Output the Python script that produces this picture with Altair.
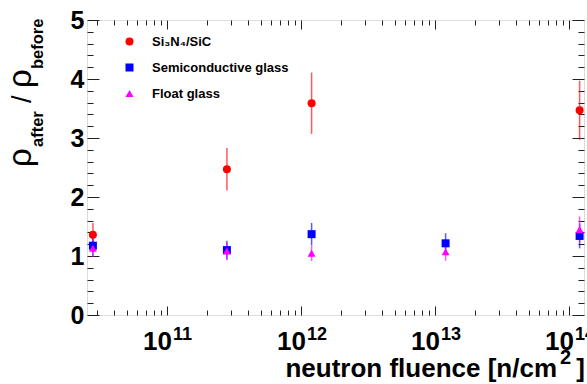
import altair as alt
import pandas as pd

# Neutron fluence of each irradiation step [n/cm^2]
fluence = [2.8e10, 2.8e11, 1.2e12, 1.2e13, 1.2e14]

# Resistivity ratio rho_after / rho_before and its uncertainty per material
sic_ratio = [1.36, 2.47, 3.59, None, 3.47]
sic_err = [0.20, 0.36, 0.52, None, 0.50]
semi_ratio = [1.175, 1.10, 1.37, 1.215, 1.34]
semi_err = [0.17, 0.16, 0.19, 0.17, 0.21]
float_ratio = [1.13, 1.085, 1.046, 1.07, 1.45]
float_err = [0.15, 0.15, 0.13, 0.15, 0.22]

materials = ["Si\u2083N\u2084/SiC", "Semiconductive glass", "Float glass"]
colors = ["#ff0000", "#0000ff", "#ff00ff"]
shapes = ["circle", "square", "triangle-up"]

decades = [11, 12, 13, 14]
y_labels = [0, 1, 2, 3, 4, 5]

rows = []
for name, vals, errs in zip(materials,
                            [sic_ratio, semi_ratio, float_ratio],
                            [sic_err, semi_err, float_err]):
    for f, v, e in zip(fluence, vals, errs):
        if v is None:
            continue
        rows.append({"fluence": f, "ratio": v, "lo": v - e, "hi": v + e,
                     "material": name})
df = pd.DataFrame(rows)

W, H = 497, 295
FONT = "Liberation Sans"
X_DOMAIN = [2.53e10, 1.294e14]

x_scale = alt.Scale(type="log", domain=X_DOMAIN, nice=False)
y_scale = alt.Scale(domain=[0, 5], nice=False, zero=False)

major_x = [10.0 ** d for d in decades]
minor_x = [k * 10.0 ** d for d in range(10, 15) for k in range(2, 10)
           if X_DOMAIN[0] <= k * 10.0 ** d <= X_DOMAIN[1]]
minor_y = [round(i * 0.2, 1) for i in range(1, 25) if i % 5 != 0]


def tick_axis(orient, values, size, labels=False, **kw):
    """Axis drawn with its ticks pointing into the frame (ROOT style)."""
    return alt.Axis(orient=orient, values=values, tickSize=size, offset=-size,
                    domain=False, grid=False, labels=labels, title=None,
                    tickColor="#222", tickWidth=1, **kw)


left_major = tick_axis("left", y_labels, 12, labels=True, labelFont=FONT,
                       labelFontSize=25, labelFontWeight="bold",
                       labelColor="black", labelPadding=3)
left_minor = tick_axis("left", minor_y, 6)
right_major = tick_axis("right", y_labels, 12)
right_minor = tick_axis("right", minor_y, 6)
bottom_major = tick_axis("bottom", major_x, 9)
bottom_minor = tick_axis("bottom", minor_x, 5)
top_major = tick_axis("top", major_x, 9)
top_minor = tick_axis("top", minor_x, 5)

color_scale = alt.Scale(domain=materials, range=colors)
shape_scale = alt.Scale(domain=materials, range=shapes)

legend = alt.Legend(orient="none", legendX=36, legendY=15, title=None,
                    labelFont=FONT, labelFontWeight="bold", labelFontSize=13,
                    labelColor="black", symbolSize=64, symbolStrokeWidth=0,
                    symbolOpacity=1, rowPadding=12, labelOffset=16, padding=0,
                    labelLimit=300)

base = alt.Chart(df)

points = base.mark_point(filled=True, opacity=1, size=64).encode(
    x=alt.X("fluence:Q", scale=x_scale, axis=bottom_minor),
    y=alt.Y("ratio:Q", scale=y_scale, axis=left_minor),
    color=alt.Color("material:N", scale=color_scale, legend=legend),
    shape=alt.Shape("material:N", scale=shape_scale, legend=legend),
)

errbars = base.mark_rule(strokeWidth=1.5, opacity=0.65).encode(
    x=alt.X("fluence:Q", scale=x_scale, axis=bottom_major),
    y=alt.Y("lo:Q", scale=y_scale, axis=left_major),
    y2="hi:Q",
    color=alt.Color("material:N", scale=color_scale, legend=legend),
)

frame_a = base.mark_point(opacity=0).encode(
    x=alt.X("fluence:Q", scale=x_scale, axis=top_major),
    y=alt.Y("ratio:Q", scale=y_scale, axis=right_major),
)
frame_b = base.mark_point(opacity=0).encode(
    x=alt.X("fluence:Q", scale=x_scale, axis=top_minor),
    y=alt.Y("ratio:Q", scale=y_scale, axis=right_minor),
)

# Decade labels 10^n drawn as base plus raised exponent
dec_df = pd.DataFrame({"pos": major_x, "exp": [str(d) for d in decades]})
dec_base = alt.Chart(dec_df).mark_text(
    font=FONT, fontWeight="bold", fontSize=26, align="right",
    baseline="alphabetic", dx=5, color="black", text="10",
).encode(x=alt.X("pos:Q", scale=x_scale, axis=None), y=alt.value(330))
dec_exp = alt.Chart(dec_df).mark_text(
    font=FONT, fontWeight="bold", fontSize=18, align="left",
    baseline="alphabetic", dx=6, color="black",
).encode(x=alt.X("pos:Q", scale=x_scale, axis=None), y=alt.value(320),
         text="exp:N")

one_row = alt.Data(values=[{"k": 0}])


def label(text, x, y, size, angle=0, weight="bold", align="left"):
    return alt.Chart(one_row).mark_text(
        text=text, font=FONT, fontSize=size, fontWeight=weight, angle=angle,
        align=align, baseline="alphabetic", color="black",
    ).encode(x=alt.value(x), y=alt.value(y))


# x-axis title: neutron fluence [n/cm^2]
x_title = [
    label("neutron fluence [n/cm", 470, 357, 26, align="right"),
    label("2", 473, 344, 20),
    label("]", 498, 357, 26, align="right"),
]

# y-axis title: rho_after / rho_before, rotated
y_title = [
    label("\u03c1", -56, 147, 33, angle=270, weight="normal"),
    label("after", -44, 127, 16.5, angle=270),
    label("/", -56, 83, 27, angle=270, weight="normal"),
    label("\u03c1", -56, 68, 33, angle=270, weight="normal"),
    label("before", -44, 49, 16.5, angle=270),
]

chart = alt.layer(
    errbars, points, frame_a, frame_b, dec_base, dec_exp, *x_title, *y_title
).resolve_axis(x="independent", y="independent").properties(
    width=W, height=H,
    autosize=alt.AutoSizeParams(type="none"),
    padding={"left": 87, "top": 20, "right": 3, "bottom": 69},
).configure_view(stroke="#888", strokeWidth=1).configure(background="white")

chart.save("out.html", embed_options={"renderer": "svg", "actions": False})
